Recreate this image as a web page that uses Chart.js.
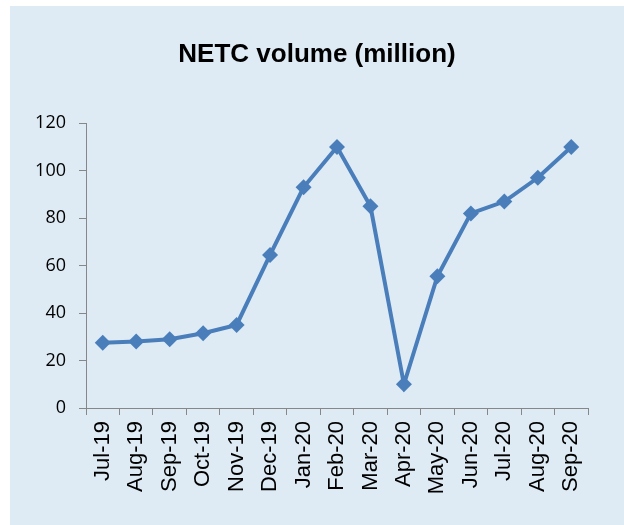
<!DOCTYPE html>
<html>
<head>
<meta charset="utf-8">
<script src="https://cdn.jsdelivr.net/npm/chart.js@4"></script>
<style>
  body { margin: 0; background: #ffffff; }
  #panel { position: absolute; left: 10px; top: 6px; width: 614px; height: 519px; background: #deebf4; }
</style>
</head>
<body>
<div id="panel"><canvas id="myChart" width="614" height="519"></canvas></div>
<script>
// month labels along the x-axis
var months = ['Jul-19','Aug-19','Sep-19','Oct-19','Nov-19','Dec-19','Jan-20','Feb-20','Mar-20','Apr-20','May-20','Jun-20','Jul-20','Aug-20','Sep-20'];
// NETC volume, million
var volume = [27.5,28,29,31.5,35,64.5,93,110,85,10,55.5,82,87,97,110];
// y-axis range
var yMin = 0, yMax = 120, yStep = 20;

var axisGrey = '#878787';
var blue = '#4a7ebb';

var ctx = document.getElementById('myChart');
var myChart = new Chart(ctx, {
  type: 'line',
  data: {
    labels: months,
    datasets: [
      {
        data: volume,
        label: 'NETC volume',
        fill: false,
        borderColor: blue,
        backgroundColor: blue,
        borderWidth: 4,
        pointStyle: 'rectRot',
        pointRadius: 8,
        pointHoverRadius: 8,
        pointBackgroundColor: blue,
        pointBorderColor: blue,
        pointBorderWidth: 0,
        tension: 0,
        clip: false
      }
    ]
  },
  options: {
    responsive: false,
    animation: false,
    devicePixelRatio: 1,
    layout: { padding: 0 },
    plugins: {
      legend: { display: false },
      tooltip: { enabled: false },
      title: {
        display: true,
        text: 'NETC volume (million)',
        color: '#000000',
        font: { family: 'Liberation Sans', size: 26, weight: 'bold' },
        padding: { top: 33, bottom: 53 }
      }
    },
    scales: {
      x: {
        offset: true,
        grid: { offset: true, drawOnChartArea: false, color: axisGrey, tickLength: 7, tickWidth: 1 },
        border: { color: axisGrey, width: 1 },
        ticks: {
          minRotation: 90,
          maxRotation: 90,
          autoSkip: false,
          padding: 6,
          color: '#000000',
          font: { family: 'Liberation Sans', size: 22 }
        },
        afterFit: function (scale) { scale.height = 117; }
      },
      y: {
        min: yMin,
        max: yMax,
        grid: { drawOnChartArea: false, color: axisGrey, tickLength: 7 },
        border: { color: axisGrey, width: 1 },
        ticks: {
          stepSize: yStep,
          padding: 13,
          color: '#000000',
          font: { family: 'Open Sans', size: 18 }
        },
        afterFit: function (scale) { scale.width = 76; }
      },
      // empty right-hand gutter, so the title stays centred on the whole panel
      gutter: {
        position: 'right',
        min: yMin,
        max: yMax,
        grid: { display: false },
        border: { display: false },
        ticks: { display: false },
        afterFit: function (scale) { scale.width = 36; }
      }
    }
  }
});
</script>
</body>
</html>
